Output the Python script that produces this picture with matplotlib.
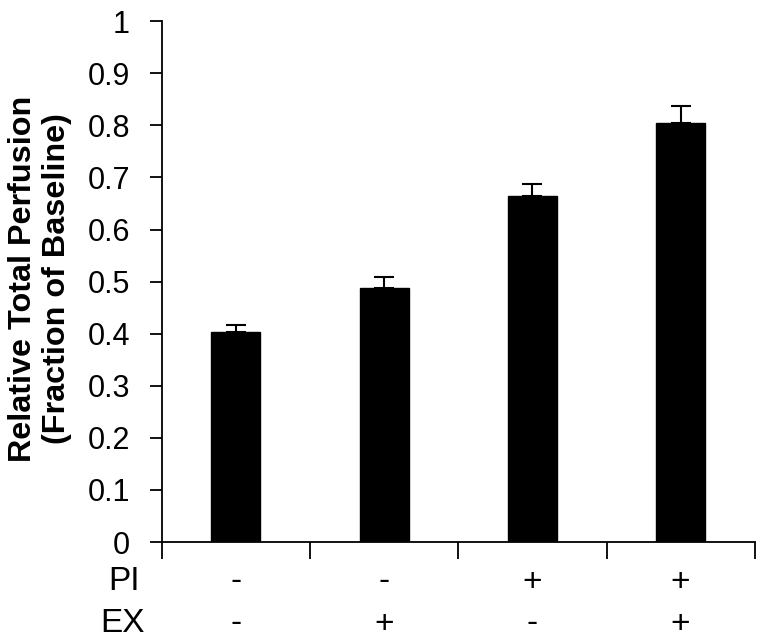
import matplotlib.pyplot as plt
import matplotlib.transforms as mtransforms

plt.rcParams['font.family'] = ['Liberation Sans', 'DejaVu Sans']

groups = [0, 1, 2, 3]
values = [0.403, 0.487, 0.665, 0.805]
errors = [0.013, 0.021, 0.022, 0.033]
pi_labels = ['-', '-', '+', '+']
ex_labels = ['-', '+', '-', '+']

fig = plt.figure(figsize=(7.67, 6.43), dpi=100)
ax = fig.add_axes([0.211, 0.157, 0.773, 0.81])

ax.bar(groups, values, width=0.33, color='black', edgecolor='black')
ax.errorbar(groups, values, yerr=[[0] * 4, errors], fmt='none',
            ecolor='black', elinewidth=1.5, capsize=7, capthick=1.5)

ax.set_ylim(0, 1)
ax.set_xlim(-0.5, 3.5)
ax.set_yticks([i / 10 for i in range(11)])
ax.set_yticklabels(['0'] + ['0.%d' % i for i in range(1, 10)] + ['1'])
ax.tick_params(axis='y', labelsize=22, length=9, width=1.3, pad=14)

ax.set_xticks([-0.5, 0.5, 1.5, 2.5, 3.5])
ax.set_xticklabels([])
ax.tick_params(axis='x', length=12, width=1.3, direction='out')

for s in ['top', 'right']:
    ax.spines[s].set_visible(False)
ax.spines['left'].set_linewidth(1.3)
ax.spines['bottom'].set_linewidth(1.3)

ax.set_ylabel('Relative Total Perfusion\n(Fraction of Baseline)',
              fontsize=23.3, fontweight='bold', linespacing=1.15)
ax.yaxis.set_label_coords(-0.152, 0.505)

trans = mtransforms.blended_transform_factory(ax.transData, fig.transFigure)
for i, (p, e) in enumerate(zip(pi_labels, ex_labels)):
    ax.text(i, 1 - 582 / 643, p, transform=trans, ha='center', va='center', fontsize=24)
    ax.text(i, 1 - 624 / 643, e, transform=trans, ha='center', va='center', fontsize=24)
fig.text(140 / 767, 1 - 582 / 643, 'PI', ha='right', va='center', fontsize=24)
fig.text(145 / 767, 1 - 624 / 643, 'EX', ha='right', va='center', fontsize=24)

fig.savefig('out.png', dpi=100)
